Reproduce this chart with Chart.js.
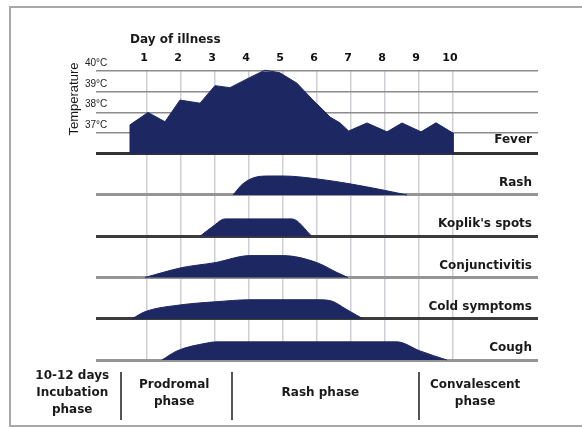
<!DOCTYPE html>
<html>
<head>
<meta charset="utf-8">
<title>Measles: course of illness</title>
<script src="https://cdn.jsdelivr.net/npm/chart.js@4.4.1/dist/chart.umd.min.js"></script>
<style>
  html, body { margin: 0; padding: 0; background: #fff; }
  canvas { display: block; }
</style>
</head>
<body>
<canvas id="measlesChart" width="582" height="428"></canvas>
<script>
// Day ticks along the top and temperature ticks
const dayTicks = [1, 2, 3, 4, 5, 6, 7, 8, 9, 10];
const tempTicks = [37, 38, 39, 40];
const tempLabels = ['37°C', '38°C', '39°C', '40°C'];

// Fever curve: day of illness -> temperature (°C)
const feverDays = [0.5, 0.5, 1.03, 1.53, 1.97, 2.56, 3.0, 3.44, 4.03, 4.47, 4.91, 5.41, 5.88, 6.18, 6.38, 6.68, 6.93, 7.47, 8.06, 8.5, 9.06, 9.5, 10, 10];
const feverTemps = [36, 37.4, 38.0, 37.55, 38.6, 38.45, 39.3, 39.2, 39.7, 40.05, 39.92, 39.42, 38.6, 38.12, 37.78, 37.49, 37.1, 37.49, 37.06, 37.49, 37.06, 37.5, 37.0, 36];

// Symptom intensity per panel (0 = none, 1 = panel height)
const rashDays = [3.53, 3.82, 4.24, 4.62, 5.0, 6.0, 6.97, 7.94, 8.65];
const rashLevels = [0, 0.27, 0.44, 0.46, 0.46, 0.39, 0.27, 0.12, 0];
const kopDays = [2.56, 2.94, 3.29, 5.26, 5.85];
const kopLevels = [0, 0.24, 0.42, 0.42, 0];
const conjDays = [0.94, 2.03, 3.0, 4.03, 5.0, 6.0, 6.59, 6.91];
const conjLevels = [0, 0.24, 0.36, 0.53, 0.53, 0.36, 0.12, 0];
const coldDays = [0.56, 0.94, 2.03, 3.0, 4.03, 6.0, 6.38, 6.88, 7.35];
const coldLevels = [0, 0.17, 0.34, 0.41, 0.46, 0.46, 0.44, 0.22, 0];
const coughDays = [1.44, 1.88, 2.76, 3.06, 8.35, 9.03, 9.82];
const coughLevels = [0, 0.22, 0.41, 0.44, 0.44, 0.22, 0];

const panelNames = ['Fever', 'Rash', "Koplik's spots", 'Conjunctivitis', 'Cold symptoms', 'Cough'];
const panelAxes = ['yFever', 'yRash', 'yKoplik', 'yConj', 'yCold', 'yCough'];

// Phases under the chart (day positions)
const phaseLabels = [['10-12 days', 'Incubation', 'phase'], ['Prodromal', 'phase'], ['Rash phase'], ['Convalescent', 'phase']];
const phaseCenters = [-1.2, 1.8, 6.1, 10.65];
const phaseBounds = [0.24, 3.5, 9.0];

const NAVY = '#1d2762';

function pts(xs, ys) {
    return xs.map((x, i) => ({ x: x, y: ys[i] }));
}

function area(xs, ys, axis, smooth) {
    return {
        data: pts(xs, ys),
        yAxisID: axis,
        backgroundColor: NAVY,
        borderColor: NAVY,
        borderWidth: 1,
        pointRadius: 0,
        fill: 'origin',
        tension: 0,
        cubicInterpolationMode: smooth ? 'monotone' : 'default',
        clip: 4
    };
}

function panelAxis(lineColor) {
    return {
        type: 'linear',
        position: 'left',
        stack: 'rows',
        stackWeight: 1,
        min: 0,
        max: 1,
        afterBuildTicks: a => { a.ticks = [{ value: 0 }]; },
        afterFit: a => { a.width = 0; },
        border: { display: false },
        grid: { drawTicks: false, color: lineColor, lineWidth: 3 },
        ticks: { display: false }
    };
}

// Extra texts: frame, titles, panel names, phases
const extras = {
    id: 'extras',
    beforeDraw(chart) {
        const ctx = chart.ctx;
        ctx.save();
        ctx.strokeStyle = '#a8a8a8';
        ctx.lineWidth = 2;
        ctx.strokeRect(10, 7, 600, 419);
        ctx.restore();
    },
    afterDraw(chart) {
        const { ctx, chartArea, scales } = chart;
        ctx.save();
        ctx.fillStyle = '#1a1a1a';
        ctx.textBaseline = 'middle';

        ctx.font = 'bold 12px "DejaVu Sans"';
        ctx.textAlign = 'left';
        ctx.fillText('Day of illness', 130, 40);

        ctx.save();
        ctx.translate(74, 99);
        ctx.rotate(-Math.PI / 2);
        ctx.textAlign = 'center';
        ctx.font = '13px "Liberation Sans"';
        ctx.fillText('Temperature', 0, 0);
        ctx.restore();

        ctx.textAlign = 'right';
        panelAxes.forEach((id, i) => {
            const s = scales[id];
            const y = s.getPixelForValue(s.min) - (i === 0 ? 14 : 12);
            ctx.fillText(panelNames[i], chartArea.right - 6, y);
        });

        const x = scales.x;
        ctx.font = 'bold 12px "DejaVu Sans"';
        ctx.textAlign = 'center';
        phaseLabels.forEach((lines, i) => {
            const cx = x.getPixelForValue(phaseCenters[i]);
            const y0 = 393 - (lines.length - 1) * 17 / 2;
            lines.forEach((t, j) => ctx.fillText(t, cx, y0 + j * 17));
        });

        ctx.strokeStyle = '#555';
        ctx.lineWidth = 2;
        phaseBounds.forEach(d => {
            const px = Math.round(x.getPixelForValue(d));
            ctx.beginPath();
            ctx.moveTo(px, 372);
            ctx.lineTo(px, 420);
            ctx.stroke();
        });
        ctx.restore();
    }
};

Chart.defaults.font.family = '"DejaVu Sans"';

const ctx = document.getElementById('measlesChart').getContext('2d');
const measlesChart = new Chart(ctx, {
    type: 'line',
    data: {
        datasets: [
            area(feverDays, feverTemps, 'yFever', false),
            area(rashDays, rashLevels, 'yRash', true),
            area(kopDays, kopLevels, 'yKoplik', true),
            area(conjDays, conjLevels, 'yConj', true),
            area(coldDays, coldLevels, 'yCold', true),
            area(coughDays, coughLevels, 'yCough', true)
        ]
    },
    options: {
        responsive: false,
        animation: false,
        layout: { padding: { left: 96, right: 44, top: 46, bottom: 68 } },
        plugins: {
            legend: { display: false },
            tooltip: { enabled: false }
        },
        scales: {
            x: {
                type: 'linear',
                position: 'top',
                min: -0.5,
                max: 12.5,
                z: 1,
                afterBuildTicks: a => { a.ticks = dayTicks.map(v => ({ value: v })); },
                border: { display: false },
                grid: { drawTicks: false, color: 'rgba(135,138,150,0.4)', lineWidth: 1.5 },
                ticks: {
                    padding: 6,
                    labelOffset: -3,
                    autoSkip: false,
                    color: '#111',
                    font: { size: 11, weight: 'bold' },
                    callback: v => String(v)
                }
            },
            // later axes sit higher in the stack
            yCough: panelAxis('#959595'),
            yCold: panelAxis('#3c3c3c'),
            yConj: panelAxis('#959595'),
            yKoplik: panelAxis('#3c3c3c'),
            yRash: panelAxis('#959595'),
            yFever: {
                type: 'linear',
                position: 'left',
                stack: 'rows',
                stackWeight: 2,
                min: 36,
                max: 40,
                afterBuildTicks: a => { a.ticks = [36].concat(tempTicks).map(v => ({ value: v })); },
                afterFit: a => { a.width = 0; },
                border: { display: false },
                grid: {
                    drawTicks: false,
                    color: c => c.tick.value === 36 ? '#333' : '#8c8c8c',
                    lineWidth: c => c.tick.value === 36 ? 3 : 1.5
                },
                ticks: {
                    mirror: true,
                    padding: -11,
                    labelOffset: -8,
                    autoSkip: false,
                    color: '#222',
                    font: { family: '"Liberation Sans"', size: 10 },
                    callback: v => v === 36 ? '' : tempLabels[tempTicks.indexOf(v)]
                }
            }
        }
    },
    plugins: [extras]
});
</script>
</body>
</html>
